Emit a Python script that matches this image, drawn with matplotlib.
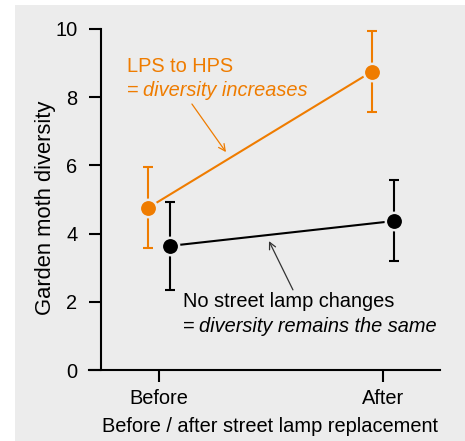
import numpy as np
import matplotlib.pyplot as plt
from matplotlib.patches import Rectangle
from matplotlib.transforms import offset_copy

# data
periods = ['Before', 'After']
lps_to_hps = np.array([4.75, 8.75])
lps_to_hps_low = np.array([3.58, 7.57])
lps_to_hps_high = np.array([5.95, 9.94])
no_change = np.array([3.64, 4.37])
no_change_low = np.array([2.35, 3.19])
no_change_high = np.array([4.93, 5.56])

ORANGE = '#ef7c00'
BG = '#ececec'
FS = 14.4

plt.rcParams['font.family'] = ['Liberation Sans', 'DejaVu Sans']

W, H = 465, 441
fig = plt.figure(figsize=(W / 100, H / 100), dpi=100, facecolor='white')
fig.patches.append(Rectangle((15 / W, 0), 1, 1 - 5 / H, transform=fig.transFigure,
                             facecolor=BG, edgecolor='none', zorder=-10))

ax = fig.add_axes([89 / W, 1 - 370 / H, (440 - 89) / W, (370 - 29) / H])
ax.set_facecolor('none')


def draw_series(offset, vals, low, high, color):
    x = np.arange(len(periods)) + offset
    ax.errorbar(x, vals, yerr=[vals - low, high - vals], fmt='none', ecolor=color,
                elinewidth=1.5, capsize=3.5, capthick=1.5, zorder=2, clip_on=False)
    ax.plot(x, vals, color=color, lw=1.5, zorder=3, clip_on=False)
    ax.plot(x, vals, 'o', ms=12.5, mfc=color, mec=BG, mew=1.8, zorder=4, clip_on=False)


def two_line_note(x, y1, y2, first, second, color):
    ax.text(x, y1, first, color=color, fontsize=FS, va='baseline')
    ax.text(x, y2, '=', color=color, fontsize=FS, va='baseline')
    shifted = offset_copy(ax.transData, fig=fig, x=11.8, y=0, units='points')
    ax.text(x, y2, second, color=color, fontsize=FS, va='baseline',
            style='italic', transform=shifted)


draw_series(-0.05, lps_to_hps, lps_to_hps_low, lps_to_hps_high, ORANGE)
draw_series(0.05, no_change, no_change_low, no_change_high, 'black')

ax.set_xlim(-0.3125, 1.2545)
ax.set_ylim(0, 10)
ax.set_xticks(range(len(periods)))
ax.set_xticklabels(periods)
ax.set_yticks([0, 2, 4, 6, 8, 10])

for side in ['top', 'right']:
    ax.spines[side].set_visible(False)
ax.spines['left'].set_position(('data', -0.259))
ax.spines['left'].set_linewidth(1.5)
ax.spines['bottom'].set_linewidth(1.5)
ax.tick_params(axis='y', length=8.6, width=1.5, pad=8.3, labelsize=FS)
ax.tick_params(axis='x', length=8.6, width=1.5, pad=5.3, labelsize=FS)

ax.set_xlabel('Before / after street lamp replacement', fontsize=FS)
ax.xaxis.set_label_coords(0.517, -0.139)
ax.set_ylabel('Garden moth diversity', fontsize=15.8)
ax.yaxis.set_label_coords(-0.095, 0.475)

# annotations
two_line_note(-0.143, 8.74, 8.03, 'LPS to HPS', 'diversity increases', ORANGE)
ax.annotate('', xy=(0.299, 6.39), xytext=(0.147, 7.80),
            arrowprops=dict(arrowstyle='->', color=ORANGE, lw=0.9,
                            shrinkA=0, shrinkB=0, mutation_scale=12))

two_line_note(0.107, 1.85, 1.12, 'No street lamp changes', 'diversity remains the same', 'black')
ax.annotate('', xy=(0.491, 3.78), xytext=(0.598, 2.35),
            arrowprops=dict(arrowstyle='->', color='#333333', lw=0.9,
                            shrinkA=0, shrinkB=0, mutation_scale=12))

fig.savefig('out.png', dpi=100)
